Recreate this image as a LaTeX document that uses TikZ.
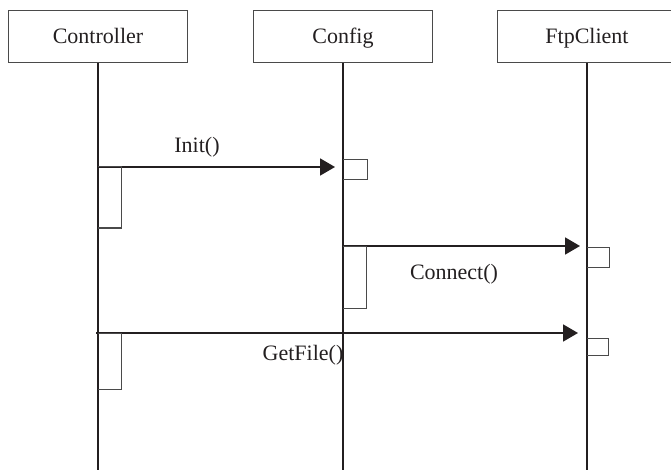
\documentclass[tikz,border=0pt]{standalone}
\usepackage{fontspec}
\setmainfont{Liberation Serif}
\usetikzlibrary{arrows.meta}
\definecolor{ink}{HTML}{231F20}
\definecolor{edge}{HTML}{4A4A4A}
\begin{document}
\begin{tikzpicture}[x=1pt,y=-1pt,
  objbox/.style={draw=edge, line width=1pt, minimum width=179pt, minimum height=52pt,
    inner sep=0pt, text height=17pt, text depth=3pt,
    font=\rmfamily\fontsize{22}{26}\selectfont, text=ink},
  lifeline/.style={draw=ink, line width=1.8pt},
  msg/.style={draw=ink, line width=1.8pt, -{Triangle[length=15pt,width=17pt]}},
  actbox/.style={draw=edge, line width=1pt},
  msglabel/.style={font=\rmfamily\fontsize{22}{26}\selectfont, inner sep=0pt, text=ink}]
  \path[use as bounding box] (0,0) rectangle (671,470);
  \clip (0,0) rectangle (671,470);

  % objects
  \node[objbox] (ctrl) at (98,37) {Controller};
  \node[objbox] (conf) at (343,37) {Config};
  \node[objbox] (ftp)  at (587,37) {FtpClient};

  % lifelines
  \coordinate (ctrlEnd) at (98,472);
  \coordinate (confEnd) at (343,472);
  \coordinate (ftpEnd)  at (587,472);
  \draw[lifeline] (ctrl.south) -- (ctrlEnd);
  \draw[lifeline] (conf.south) -- (confEnd);
  \draw[lifeline] (ftp.south)  -- (ftpEnd);

  % Init()
  \coordinate (initA) at (98,167);
  \coordinate (initB) at (335,167);
  \draw[msg] (initA) -- (initB);
  \node[msglabel] (initL) at (197,147) {Init()};
  \draw[actbox] (initA) -| (121,228) -- (98,228);
  \draw[actbox] (343,160) -| (367,180) -- (343,180);

  % Connect()
  \coordinate (connA) at (343,246);
  \coordinate (connB) at (580,246);
  \draw[msg] (connA) -- (connB);
  \node[msglabel] (connL) at (454,274) {Connect()};
  \draw[actbox] (connA) -| (366,308) -- (343,308);
  \draw[actbox] (587,247) -| (609,267) -- (587,267);

  % GetFile()
  \coordinate (getA) at (96,333);
  \coordinate (getB) at (578,333);
  \draw[msg] (getA) -- (getB);
  \node[msglabel] (getL) at (303,355) {GetFile()};
  \draw[actbox] (98,333) -| (121,389) -- (98,389);
  \draw[actbox] (587,338) -| (608,355) -- (587,355);
\end{tikzpicture}
\end{document}
